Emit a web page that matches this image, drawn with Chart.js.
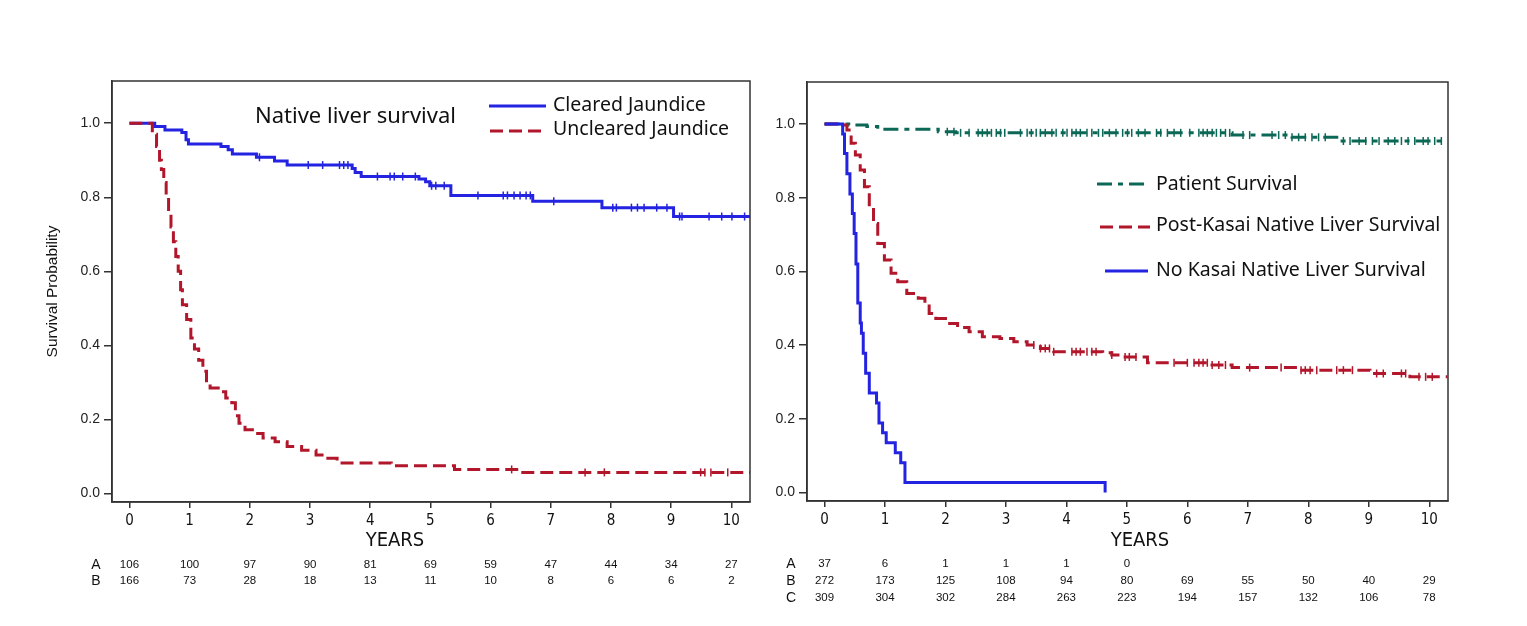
<!DOCTYPE html>
<html>
<head>
<meta charset="utf-8">
<script src="https://cdn.jsdelivr.net/npm/chart.js@4.4.1/dist/chart.umd.min.js"></script>
<style>
    html, body { margin: 0; padding: 0; background: #fff; }
    body { width: 1527px; height: 626px; position: relative; overflow: hidden; }
    canvas { position: absolute; top: 0; }
    #leftChart { left: 0; }
    #rightChart { left: 763px; }
</style>
</head>
<body>
<canvas id="leftChart" width="763" height="626"></canvas>
<canvas id="rightChart" width="764" height="626"></canvas>
<script>
// Axis ticks
const yearTicks = [0, 1, 2, 3, 4, 5, 6, 7, 8, 9, 10];
const probTicks = [0, 0.2, 0.4, 0.6, 0.8, 1.0];

// Left panel: native liver survival by jaundice clearance (KM steps)
const clearedTimes = [0, 0.42, 0.59, 0.87, 0.94, 0.98, 1.52, 1.64, 1.71, 2.11, 2.41, 2.62, 3.70, 3.75, 3.85, 4.81, 4.92, 4.99, 5.34, 6.70, 7.85, 9.04, 10.31];
const clearedSurv = [1, 0.991, 0.982, 0.975, 0.955, 0.944, 0.937, 0.928, 0.917, 0.908, 0.898, 0.887, 0.878, 0.867, 0.856, 0.849, 0.842, 0.831, 0.805, 0.789, 0.772, 0.748, 0.748];
const clearedCensored = [2.16, 2.97, 3.21, 3.49, 3.56, 3.63, 4.12, 4.33, 4.40, 4.54, 4.75, 5.02, 5.09, 5.23, 5.79, 6.21, 6.28, 6.39, 6.49, 6.59, 6.66, 7.05, 8.03, 8.09, 8.34, 8.44, 8.55, 8.76, 8.93, 9.14, 9.18, 9.63, 9.84, 10.01, 10.22];

const unclearedTimes = [0, 0.38, 0.45, 0.50, 0.53, 0.57, 0.61, 0.65, 0.69, 0.73, 0.77, 0.81, 0.85, 0.88, 0.95, 1.02, 1.08, 1.15, 1.22, 1.28, 1.34, 1.52, 1.60, 1.70, 1.76, 1.82, 1.92, 2.08, 2.22, 2.42, 2.62, 2.86, 3.10, 3.20, 3.45, 4.35, 5.40, 6.50, 10.31];
const unclearedSurv = [1, 0.97, 0.937, 0.90, 0.875, 0.84, 0.80, 0.76, 0.72, 0.68, 0.64, 0.60, 0.55, 0.51, 0.47, 0.42, 0.39, 0.36, 0.33, 0.30, 0.285, 0.275, 0.258, 0.245, 0.21, 0.19, 0.172, 0.162, 0.15, 0.14, 0.127, 0.117, 0.104, 0.095, 0.082, 0.075, 0.065, 0.057, 0.057];
const unclearedCensored = [6.35, 7.57, 7.89, 9.49, 9.56, 9.66, 9.94];

// Left panel numbers at risk
const riskCleared = [106, 100, 97, 90, 81, 69, 59, 47, 44, 34, 27];
const riskUncleared = [166, 73, 28, 18, 13, 11, 10, 8, 6, 6, 2];

// Right panel: patient survival, post-Kasai and no-Kasai native liver survival
const patientTimes = [0, 0.40, 0.70, 0.88, 1.88, 2.17, 6.74, 7.73, 8.50, 10.3];
const patientSurv = [1, 0.997, 0.993, 0.986, 0.979, 0.976, 0.970, 0.964, 0.954, 0.954];
const patientCensored = [2.03, 2.14, 2.25, 2.39, 2.54, 2.61, 2.69, 2.76, 2.84, 2.91, 2.98, 3.24, 3.35, 3.42, 3.50, 3.57, 3.65, 3.76, 3.83, 3.94, 4.01, 4.09, 4.16, 4.23, 4.34, 4.42, 4.53, 4.60, 4.71, 4.82, 4.93, 5.01, 5.08, 5.19, 5.30, 5.49, 5.56, 5.67, 5.78, 5.89, 6.04, 6.19, 6.26, 6.33, 6.41, 6.48, 6.55, 6.63, 6.70, 6.92, 7.03, 7.40, 7.51, 7.62, 7.73, 7.84, 7.95, 8.06, 8.17, 8.28, 8.58, 8.69, 8.84, 8.95, 9.06, 9.17, 9.32, 9.43, 9.54, 9.65, 9.76, 9.90, 9.98, 10.09, 10.20];

const postKasaiTimes = [0, 0.30, 0.37, 0.44, 0.51, 0.59, 0.66, 0.74, 0.81, 0.88, 0.99, 1.10, 1.21, 1.36, 1.55, 1.66, 1.73, 1.84, 2.03, 2.20, 2.39, 2.61, 2.90, 3.13, 3.35, 3.57, 3.79, 4.60, 4.75, 4.93, 5.34, 6.37, 6.74, 7.84, 9.02, 9.68, 10.3];
const postKasaiSurv = [1, 0.997, 0.984, 0.948, 0.916, 0.875, 0.83, 0.776, 0.73, 0.676, 0.631, 0.595, 0.572, 0.54, 0.527, 0.513, 0.486, 0.472, 0.459, 0.448, 0.436, 0.423, 0.418, 0.409, 0.40, 0.391, 0.382, 0.379, 0.373, 0.368, 0.352, 0.346, 0.339, 0.332, 0.323, 0.314, 0.314];
const postKasaiCensored = [3.46, 3.57, 3.65, 3.72, 3.79, 4.09, 4.16, 4.23, 4.34, 4.42, 4.49, 4.75, 4.97, 5.04, 5.15, 5.78, 6.00, 6.11, 6.19, 6.26, 6.33, 6.41, 6.52, 6.63, 7.03, 7.55, 7.88, 7.95, 8.03, 8.14, 8.47, 8.58, 8.73, 9.13, 9.24, 9.54, 9.61, 9.83, 9.94, 10.05];

const noKasaiTimes = [0, 0.30, 0.33, 0.37, 0.42, 0.46, 0.49, 0.52, 0.55, 0.59, 0.61, 0.64, 0.68, 0.74, 0.86, 0.90, 0.96, 1.02, 1.17, 1.26, 1.33, 4.64];
const noKasaiSurv = [1, 0.973, 0.92, 0.865, 0.81, 0.757, 0.703, 0.62, 0.514, 0.46, 0.432, 0.378, 0.324, 0.27, 0.243, 0.189, 0.162, 0.135, 0.108, 0.081, 0.027, 0];

// Right panel numbers at risk (A: no Kasai, B: post-Kasai, C: patients)
const riskNoKasai = [37, 6, 1, 1, 1, 0];
const riskPostKasai = [272, 173, 125, 108, 94, 80, 69, 55, 50, 40, 29];
const riskPatient = [309, 304, 302, 284, 263, 223, 194, 157, 132, 106, 78];

const BLUE = 'rgb(35, 35, 225)';
const RED = 'rgb(178, 22, 42)';
const GREEN = 'rgb(12, 104, 86)';
const SANS = "'Liberation Sans', Arial, sans-serif";
const NARROW = "'Liberation Sans Narrow', 'DejaVu Sans Condensed', 'Liberation Sans', sans-serif";
const LEGEND_FONT = "'Noto Sans', 'Open Sans', sans-serif";

// KM curve value at time t (last step at or before t)
function levelAt(times, surv, t) {
    let v = surv[0];
    for (let i = 0; i < times.length; i++) {
        if (times[i] <= t) v = surv[i];
    }
    return v;
}

function kmLine(label, times, surv, color, dash, order) {
    return {
        label: label,
        data: times.map((t, i) => ({ x: t, y: surv[i] })),
        borderColor: color,
        backgroundColor: color,
        borderWidth: 3,
        borderDash: dash,
        stepped: 'before',
        pointRadius: 0,
        fill: false,
        order: order
    };
}

function censorMarks(times, surv, censored, color, order) {
    return {
        label: 'censored',
        data: censored.map(t => ({ x: t, y: levelAt(times, surv, t) })),
        showLine: false,
        borderColor: color,
        pointStyle: 'line',
        pointRotation: 90,
        pointRadius: 4,
        pointBorderWidth: 1.5,
        pointBorderColor: color,
        order: order
    };
}

// box around the plot area
const framePlugin = {
    id: 'frame',
    afterDraw(chart) {
        const { ctx, chartArea: a } = chart;
        ctx.save();
        ctx.strokeStyle = '#333';
        ctx.lineWidth = 1.5;
        ctx.strokeRect(a.left, a.top, a.right - a.left, a.bottom - a.top);
        ctx.restore();
    }
};

// legend drawn inside the plot, using each dataset's own line style
const kmLegend = {
    id: 'kmLegend',
    afterDraw(chart, args, opts) {
        const ctx = chart.ctx;
        ctx.save();
        ctx.textBaseline = 'middle';
        ctx.fillStyle = '#111';
        if (opts.title) {
            ctx.font = '22px ' + LEGEND_FONT;
            ctx.textAlign = 'left';
            ctx.fillText(opts.title.text, opts.title.x, opts.title.y);
        }
        (opts.items || []).forEach(item => {
            const ds = chart.data.datasets[item.dataset];
            ctx.strokeStyle = ds.borderColor;
            ctx.lineWidth = ds.borderWidth;
            ctx.setLineDash(ds.borderDash || []);
            ctx.beginPath();
            ctx.moveTo(item.x0, item.y);
            ctx.lineTo(item.x1, item.y);
            ctx.stroke();
            ctx.setLineDash([]);
            ctx.font = '19.5px ' + LEGEND_FONT;
            ctx.textAlign = 'left';
            ctx.fillText(ds.label, item.tx, item.ty);
        });
        ctx.restore();
    }
};

// YEARS title and numbers-at-risk table under the x axis
const riskTable = {
    id: 'riskTable',
    afterDraw(chart, args, opts) {
        const ctx = chart.ctx;
        const x = chart.scales.x;
        ctx.save();
        ctx.fillStyle = '#111';
        ctx.textBaseline = 'middle';
        ctx.textAlign = 'center';
        ctx.font = '20px ' + NARROW;
        ctx.fillText('YEARS', opts.titleX, opts.titleY);
        opts.rows.forEach((row, r) => {
            const y = opts.rowY[r];
            ctx.font = '14px ' + SANS;
            ctx.fillText(row.label, opts.labelX, y);
            ctx.font = '11.5px ' + SANS;
            row.values.forEach((v, i) => {
                ctx.fillText(String(v), x.getPixelForValue(yearTicks[i]), y);
            });
        });
        ctx.restore();
    }
};

function xScale(height) {
    return {
        type: 'linear',
        min: -0.29,
        max: 10.31,
        afterBuildTicks: axis => { axis.ticks = yearTicks.map(v => ({ value: v })); },
        afterFit: axis => { axis.height = height; },
        grid: { drawOnChartArea: false, drawTicks: true, tickLength: 6, color: '#333', lineWidth: 1.5 },
        border: { display: true, color: '#333', width: 1.5 },
        ticks: { padding: 4, color: '#111', font: { family: NARROW, size: 15 }, maxRotation: 0 }
    };
}

function yScale(width, withTitle) {
    return {
        type: 'linear',
        min: -0.023,
        max: 1.114,
        afterBuildTicks: axis => { axis.ticks = probTicks.map(v => ({ value: v })); },
        afterFit: axis => { axis.width = width; },
        grid: { drawOnChartArea: false, drawTicks: true, tickLength: 8, color: '#333', lineWidth: 1.5 },
        border: { display: true, color: '#333', width: 1.5 },
        ticks: {
            padding: 4,
            color: '#222',
            font: { family: SANS, size: 14 },
            callback: v => v.toFixed(1)
        },
        title: {
            display: withTitle,
            text: 'Survival Probability',
            color: '#111',
            font: { family: SANS, size: 15.5 },
            padding: { top: 43.5, bottom: 0 }
        }
    };
}

new Chart(document.getElementById('leftChart'), {
    type: 'line',
    data: {
        datasets: [
            kmLine('Uncleared Jaundice', unclearedTimes, unclearedSurv, RED, [13, 6], 1),
            kmLine('Cleared Jaundice', clearedTimes, clearedSurv, BLUE, [], 2),
            censorMarks(unclearedTimes, unclearedSurv, unclearedCensored, RED, 1),
            censorMarks(clearedTimes, clearedSurv, clearedCensored, BLUE, 2)
        ]
    },
    options: {
        responsive: false,
        animation: false,
        layout: { padding: { left: 0, right: 13, top: 81, bottom: 0 } },
        scales: { x: xScale(124), y: yScale(112, true) },
        plugins: {
            legend: { display: false },
            tooltip: { enabled: false },
            kmLegend: {
                title: { text: 'Native liver survival', x: 255, y: 117 },
                items: [
                    { dataset: 1, x0: 489, x1: 546, y: 106, tx: 553, ty: 105 },
                    { dataset: 0, x0: 490, x1: 546, y: 131, tx: 553, ty: 129 }
                ]
            },
            riskTable: {
                titleX: 395,
                titleY: 541,
                labelX: 96,
                rowY: [565, 581],
                rows: [
                    { label: 'A', values: riskCleared },
                    { label: 'B', values: riskUncleared }
                ]
            }
        }
    },
    plugins: [framePlugin, kmLegend, riskTable]
});

new Chart(document.getElementById('rightChart'), {
    type: 'line',
    data: {
        datasets: [
            kmLine('Patient Survival', patientTimes, patientSurv, GREEN, [15, 6, 5, 6], 3),
            kmLine('Post-Kasai Native Liver Survival', postKasaiTimes, postKasaiSurv, RED, [13, 6], 2),
            kmLine('No Kasai Native Liver Survival', noKasaiTimes, noKasaiSurv, BLUE, [], 1),
            censorMarks(patientTimes, patientSurv, patientCensored, GREEN, 3),
            censorMarks(postKasaiTimes, postKasaiSurv, postKasaiCensored, RED, 2)
        ]
    },
    options: {
        responsive: false,
        animation: false,
        layout: { padding: { left: 0, right: 79, top: 82, bottom: 0 } },
        scales: { x: xScale(125), y: yScale(44, false) },
        plugins: {
            legend: { display: false },
            tooltip: { enabled: false },
            kmLegend: {
                items: [
                    { dataset: 0, x0: 334, x1: 384, y: 184, tx: 393, ty: 184 },
                    { dataset: 1, x0: 337, x1: 387, y: 227, tx: 393, ty: 225 },
                    { dataset: 2, x0: 342, x1: 385, y: 271, tx: 393, ty: 270 }
                ]
            },
            riskTable: {
                titleX: 377,
                titleY: 541,
                labelX: 28,
                rowY: [564, 581, 598],
                rows: [
                    { label: 'A', values: riskNoKasai },
                    { label: 'B', values: riskPostKasai },
                    { label: 'C', values: riskPatient }
                ]
            }
        }
    },
    plugins: [framePlugin, kmLegend, riskTable]
});
</script>
</body>
</html>
